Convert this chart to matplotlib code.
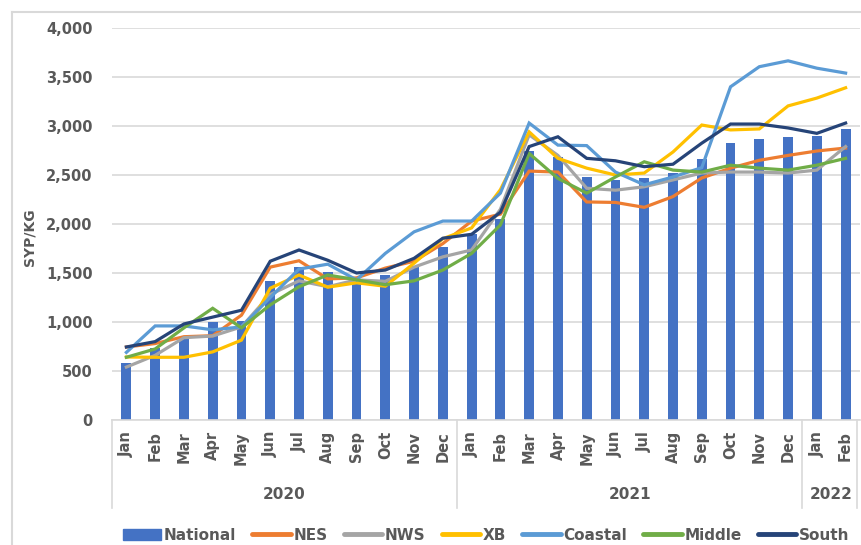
import matplotlib.pyplot as plt
from matplotlib.lines import Line2D
from matplotlib.patches import Patch
import numpy as np

# month labels, Jan 2020 .. Feb 2022
months = ["Jan", "Feb", "Mar", "Apr", "May", "Jun", "Jul", "Aug", "Sep", "Oct", "Nov", "Dec",
          "Jan", "Feb", "Mar", "Apr", "May", "Jun", "Jul", "Aug", "Sep", "Oct", "Nov", "Dec",
          "Jan", "Feb"]
years = ["2020", "2021", "2022"]
year_spans = [(0, 11), (12, 23), (24, 25)]

national = [580, 730, 840, 1000, 1010, 1420, 1560, 1510, 1400, 1480, 1570, 1770,
            1900, 2050, 2750, 2680, 2480, 2450, 2470, 2520, 2660, 2830, 2870, 2890, 2900, 2970]
nes = [745, 780, 850, 860, 1070, 1560, 1625, 1440, 1450, 1550, 1620, 1800,
       2030, 2100, 2540, 2530, 2225, 2220, 2170, 2280, 2470, 2570, 2650, 2700, 2745, 2775]
nws = [540, 660, 840, 857, 950, 1280, 1420, 1360, 1430, 1415, 1560, 1665,
       1735, 2150, 2910, 2700, 2365, 2345, 2380, 2450, 2520, 2530, 2530, 2520, 2550, 2790]
xb = [643, 640, 640, 695, 815, 1345, 1480, 1355, 1400, 1365, 1600, 1850,
      1960, 2350, 2940, 2670, 2570, 2500, 2520, 2735, 3010, 2960, 2970, 3205, 3285, 3390]
coastal = [690, 960, 960, 920, 950, 1250, 1540, 1590, 1430, 1700, 1920, 2030,
           2030, 2315, 3030, 2805, 2800, 2530, 2400, 2480, 2575, 3400, 3605, 3665, 3590, 3540]
middle = [640, 725, 940, 1140, 940, 1175, 1360, 1480, 1430, 1380, 1420, 1530,
          1700, 1990, 2720, 2465, 2315, 2480, 2635, 2550, 2530, 2600, 2570, 2550, 2600, 2670]
south = [745, 800, 980, 1050, 1120, 1620, 1735, 1630, 1500, 1530, 1650, 1855,
         1895, 2120, 2790, 2890, 2670, 2645, 2585, 2610, 2825, 3020, 3020, 2980, 2925, 3030]

series = [("NES", nes, "#ED7D31"), ("NWS", nws, "#A5A5A5"), ("XB", xb, "#FFC000"),
          ("Coastal", coastal, "#5B9BD5"), ("Middle", middle, "#70AD47"), ("South", south, "#264478")]

txt = "#595959"
grid = "#D9D9D9"

fig = plt.figure(figsize=(8.62, 5.45), dpi=100)
ax = fig.add_axes([112 / 862, 125 / 545, 748 / 862, 392 / 545])

x = np.arange(len(months))
ax.bar(x, national, width=0.34, color="#4472C4", zorder=2)
for name, vals, col in series:
    ax.plot(x, vals, color=col, lw=2.3, zorder=3, solid_joinstyle="miter")

ax.set_xlim(-0.5, len(months) - 0.5)
ax.set_ylim(0, 4000)
ax.set_yticks(range(0, 4001, 500))
ax.set_yticklabels([f"{v:,}" for v in range(0, 4001, 500)], fontsize=10.5,
                   fontweight="bold", color=txt)
ax.yaxis.grid(True, color=grid, lw=1.2, zorder=0)
ax.tick_params(axis="y", length=0, pad=14)

ax.set_xticks(x)
ax.set_xticklabels(months, rotation=90, fontsize=10.5, fontweight="bold", color=txt, va="top")
ax.tick_params(axis="x", length=0, pad=8)

for s in ["top", "right", "left"]:
    ax.spines[s].set_visible(False)
ax.spines["bottom"].set_color(grid)
ax.spines["bottom"].set_linewidth(1.2)

# year grouping under the months
trans = ax.get_xaxis_transform()
for yr, (a, b) in zip(years, year_spans):
    ax.text((a + b) / 2, -0.191, yr, transform=trans, ha="center", va="center",
            fontsize=11, fontweight="bold", color=txt)
for xs in [-0.5, 11.5, 23.5, 25.4]:
    ax.plot([xs, xs], [0, -0.224], transform=trans, color=grid, lw=1.2, clip_on=False)

fig.text(30 / 862, 1 - 237 / 545, "SYP/KG", rotation=90, ha="center", va="center",
         fontsize=10, fontweight="bold", color=txt)

# chart frame (left and top edges visible)
fig.add_artist(Line2D([12 / 862, 12 / 862], [0, 1 - 12 / 545], color=grid, lw=1.5))
fig.add_artist(Line2D([12 / 862, 1], [1 - 12 / 545, 1 - 12 / 545], color=grid, lw=1.5))

handles = [Patch(color="#4472C4", label="National")]
handles += [Line2D([], [], color=c, lw=3.5, solid_capstyle="round", label=n) for n, _, c in series]
leg = fig.legend(handles=handles, ncol=7, loc="center", bbox_to_anchor=(0.564, 0.018),
                 frameon=False, handlelength=2.5, handletextpad=0.2, columnspacing=1.05,
                 borderpad=0, prop={"size": 11, "weight": "bold"})
for t in leg.get_texts():
    t.set_color(txt)

fig.savefig("out.png", dpi=100)
